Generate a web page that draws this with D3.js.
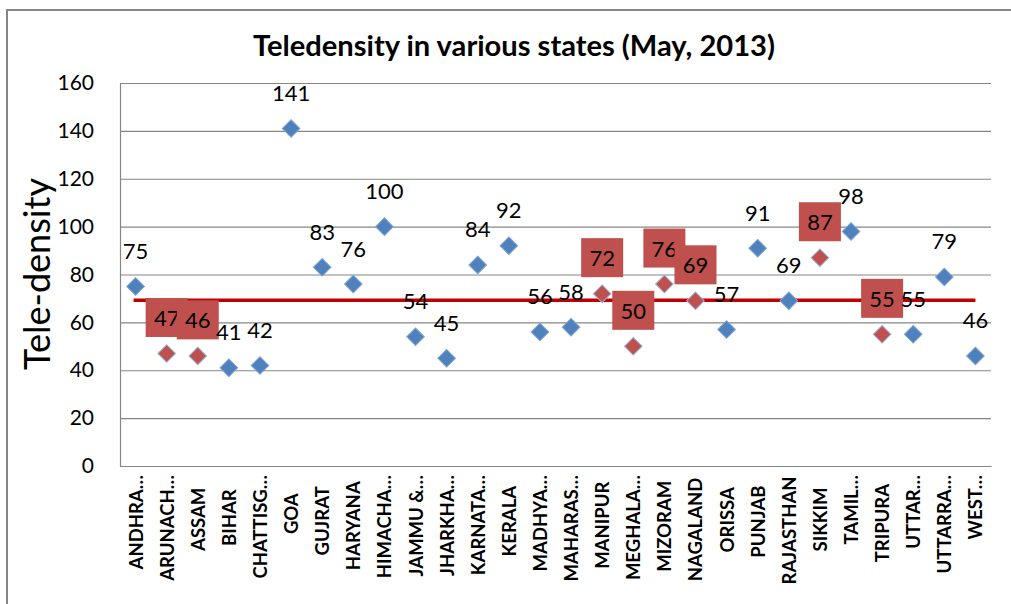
<!DOCTYPE html>
<html>
<head>
<meta charset="utf-8">
<script src="https://cdn.jsdelivr.net/npm/d3@7"></script>
<style>
  html, body { margin: 0; padding: 0; background: #fff; }
  svg { display: block; }
  text { font-family: Lato, "Open Sans", sans-serif; }
</style>
</head>
<body>
<svg id="chart" width="1011" height="604"></svg>
<script>
// ---- data ----
const categories = ["ANDHRA…","ARUNACH…","ASSAM","BIHAR","CHATTISG…","GOA","GUJRAT","HARYANA","HIMACHA…","JAMMU &…","JHARKHA…","KARNATA…","KERALA","MADHYA…","MAHARAS…","MANIPUR","MEGHALA…","MIZORAM","NAGALAND","ORISSA","PUNJAB","RAJASTHAN","SIKKIM","TAMIL…","TRIPURA","UTTAR…","UTTARRA…","WEST…"];
const teledensity = [75,47,46,41,42,141,83,76,100,54,45,84,92,56,58,72,50,76,69,57,91,69,87,98,55,55,79,46];
const northEastStates = ["ARUNACH…","ASSAM","MANIPUR","MEGHALA…","MIZORAM","NAGALAND","SIKKIM","TRIPURA"];
const nationalAverage = [69.2];
const yTicks = [0,20,40,60,80,100,120,140,160];
const chartTitle = "Teledensity in various states (May, 2013)";
const yTitle = "Tele-density";

// ---- layout ----
const svg = d3.select("#chart");
const plot = {left: 120, right: 991, top: 83, bottom: 466};
const x = d3.scaleBand().domain(categories).range([plot.left, plot.right]);
const y = d3.scaleLinear().domain([0, 160]).range([plot.bottom, plot.top]);
const blue = "#4f81bd", red = "#c0504d", grid = "#868686";

// outer border
svg.append("rect").attr("x", 7).attr("y", 10).attr("width", 1030).attr("height", 620)
  .attr("fill", "#fff").attr("stroke", grid).attr("stroke-width", 2);

function fitText(sel, target) {
  const n = sel.node();
  const fs = parseFloat(sel.attr("font-size"));
  const w = n.getComputedTextLength();
  sel.attr("font-size", (fs * target / w).toFixed(2));
}

// title
const t = svg.append("text").attr("x", 514).attr("y", 56).attr("text-anchor", "middle")
  .attr("font-weight", "bold").attr("font-size", 22).attr("fill", "#000").text(chartTitle);
fitText(t, 522);

// gridlines
const gridG = svg.append("g").attr("transform", `translate(${plot.left},0)`)
  .call(d3.axisLeft(y).tickValues(yTicks).tickSize(-(plot.right - plot.left)).tickFormat(""));
gridG.select(".domain").remove();
gridG.selectAll(".tick line").attr("stroke", grid).attr("stroke-width", 1.2);

// y axis
const yAxis = svg.append("g").attr("transform", `translate(${plot.left},0)`)
  .call(d3.axisLeft(y).tickValues(yTicks).tickSize(0).tickPadding(26));
yAxis.select(".domain").attr("stroke", grid).attr("stroke-width", 1.2);
yAxis.selectAll("text").attr("font-size", 21).attr("fill", "#000")
  .attr("font-family", "Lato, sans-serif");

// x axis
const xAxis = svg.append("g").attr("transform", `translate(0,${plot.bottom})`)
  .call(d3.axisBottom(x).tickSize(0).tickFormat(""));
xAxis.select(".domain").attr("stroke", grid).attr("stroke-width", 1.2);
const xl = svg.append("g").selectAll("text").data(categories).join("text")
  .attr("font-size", 18.5).attr("font-weight", "bold").attr("fill", "#000")
  .attr("text-anchor", "end").attr("dominant-baseline", "central")
  .text(d => d);
xl.each(function(d) {
  const len = this.getComputedTextLength();
  const cx = x(d) + x.bandwidth() / 2;
  const top = d.endsWith("…") ? 475 : 476 + 0.25 * Math.max(0, 110 - len);
  d3.select(this).attr("transform", `translate(${cx},${top}) rotate(-90)`);
});

// y title
const yt = svg.append("text").attr("transform", "translate(36,274) rotate(-90)")
  .attr("text-anchor", "middle").attr("dominant-baseline", "central")
  .attr("font-size", 28).attr("fill", "#000").text(yTitle);
fitText(yt, 192);

// average line
svg.selectAll("line.avg").data(nationalAverage).join("line").attr("class", "avg")
  .attr("x1", x(categories[0]) + x.bandwidth() / 2 - 2)
  .attr("x2", x(categories[categories.length - 1]) + x.bandwidth() / 2)
  .attr("y1", d => y(d)).attr("y2", d => y(d))
  .attr("stroke", "#c00000").attr("stroke-width", 3.5);

// points
const data = categories.map((c, i) => ({c, v: teledensity[i], ne: northEastStates.includes(c)}));
const sym = d3.symbol().type(d3.symbolSquare).size(155);
svg.append("g").selectAll("path").data(data).join("path")
  .attr("d", sym)
  .attr("transform", d => `translate(${x(d.c) + x.bandwidth() / 2},${y(d.v)}) rotate(45)`)
  .attr("fill", d => d.ne ? red : blue)
  .attr("stroke", d => d.ne ? "#95b3d7" : "#7fa3d1").attr("stroke-width", 1);

// labels
const lab = svg.append("g");
data.forEach(d => {
  const cx = x(d.c) + x.bandwidth() / 2, cy = y(d.v) - 36;
  if (d.ne) {
    lab.append("rect").attr("x", cx - 21).attr("y", cy - 19.5).attr("width", 42).attr("height", 39)
      .attr("fill", red);
  }
  lab.append("text").attr("x", cx).attr("y", cy).attr("text-anchor", "middle")
    .attr("dominant-baseline", "central").attr("font-size", 22).attr("fill", "#000")
    .text(d.v);
});
</script>
</body>
</html>
